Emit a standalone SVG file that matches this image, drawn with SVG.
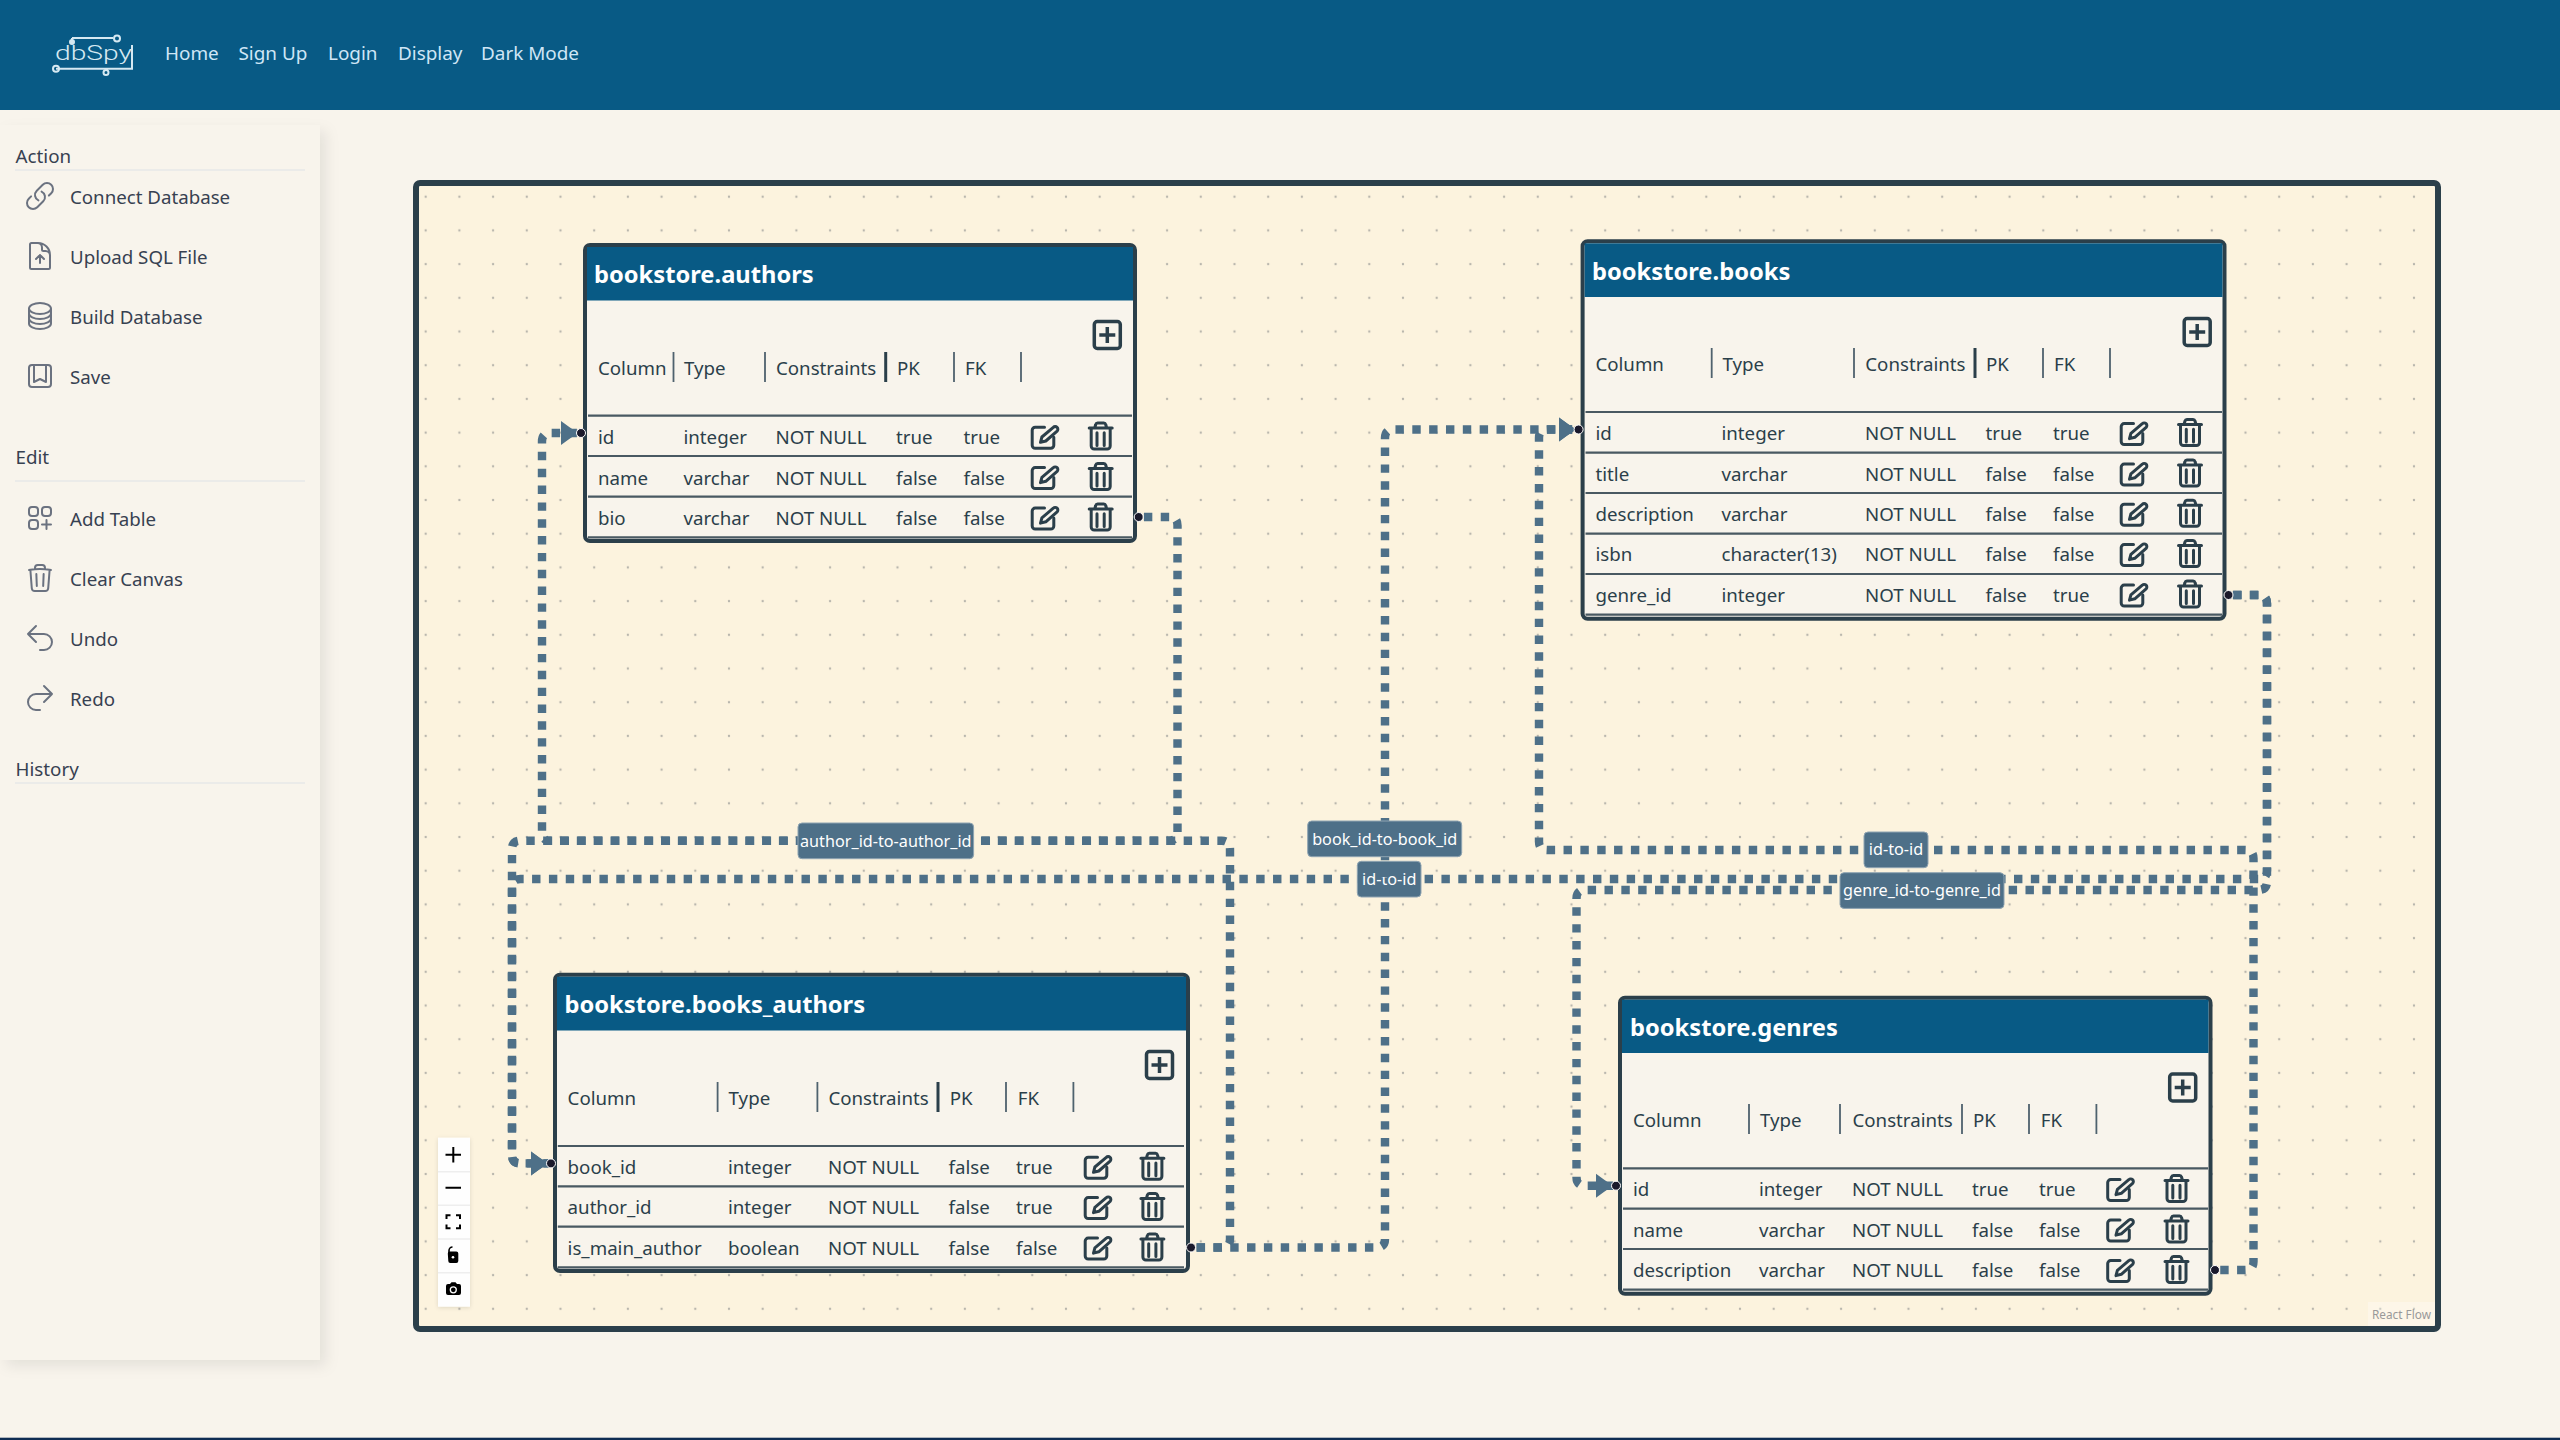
<svg xmlns="http://www.w3.org/2000/svg" width="2560" height="1440" viewBox="0 0 2560 1440">
<style>
text{font-family:"Noto Sans","Open Sans",sans-serif}
.nav{font-size:18.900px;fill:#cfe6f6}
.sec{font-size:18.800px;fill:#374151}
.it{font-size:18.700px;fill:#374151}
.ic{fill:none;stroke:#6b7280;stroke-width:1.5;stroke-linecap:round;stroke-linejoin:round}
.sl{stroke:#e7e8e8;stroke-width:1.6}
.e{fill:none;stroke:#4e7088;stroke-width:8.42;stroke-dasharray:8.42 8.42}
.lb{fill:#4e7088;stroke:#8fa4b2;stroke-width:1}
.lt{font-size:16.200px;fill:#fff;text-anchor:middle}
.box{fill:#f8f4ec;stroke:#2b3f4a;stroke-width:4}
.hd{fill:#085a85}
.ti{font-size:23.700px;font-weight:700;fill:#fff}
.c{font-size:18.700px;fill:#2b3f4a}
.rl{stroke:#2b3f4a;stroke-width:2.200;opacity:.85}
.dv{stroke:#4f626e;stroke-width:1.8}
.dt{stroke:#2b3f4a;stroke-width:3}
.hs{fill:#1a192b;stroke:#fff;stroke-width:1}
.ln{fill:none;stroke:#2b3f4a;stroke-width:3;stroke-linecap:round;stroke-linejoin:round}
.lg{fill:none;stroke:#d6e9f2;stroke-width:2}
</style>
<defs>
<pattern id="dots" patternUnits="userSpaceOnUse" x="408.85" y="179.85" width="33.7" height="33.7"><circle cx="16.85" cy="16.85" r="1.2" fill="#b9b6ad"/></pattern>
<filter id="sh" x="-10%" y="-10%" width="120%" height="120%"><feDropShadow dx="6" dy="6" stdDeviation="7" flood-color="#000" flood-opacity=".08"/></filter>
<filter id="ts" x="-20%" y="-5%" width="140%" height="110%"><feDropShadow dx="0" dy="1" stdDeviation="2" flood-color="#000" flood-opacity=".12"/></filter>
<marker id="arrow" markerUnits="userSpaceOnUse" markerWidth="24" markerHeight="28" viewBox="0 0 24 28" refX="20" refY="14" orient="auto"><path d="M0 2Q8 8 17 14Q8 20 0 26z" fill="#4e7088"/></marker>
<g id="ed"><path class="ln" d="M-1-9.4H-10.300a3 3 0 0 0-3 3V8.600a3 3 0 0 0 3 3H5.300a3 3 0 0 0 3-3V.6"/><path class="ln" d="M-5 5.600L-3.600 .3 7.800-9.300a2.600 2.600 0 0 1 3.800 3.700L.3 4.300z"/></g>
<g id="tr"><path class="ln" d="M-11.500-8H11.500M-6-8l1-3.500a2 2 0 0 1 2-1.500h6a2 2 0 0 1 2 1.500l1 3.500M-9.500-7V10a3 3 0 0 0 3 3H6.500a3 3 0 0 0 3-3V-7M-3.700-3.300V9.500M3.500-3.300V9.500"/></g>
<g id="pl"><rect x="-13" y="-13" width="26" height="27" rx="3" fill="none" stroke="#2b3f4a" stroke-width="3.500"/><path d="M-8 .5H8M0-7.500V8.500" fill="none" stroke="#2b3f4a" stroke-width="3.500"/></g>
</defs>

<rect width="2560" height="1440" fill="#f8f4ec"/>
<g id="topbar">
<rect width="2560" height="110" fill="#085a85"/>
<g id="logo">
<path class="lg" d="M72 38H113M72 38V44M56 68.700H132V45M107 68.700V70"/>
<circle class="lg" cx="117" cy="38.500" r="3"/><circle class="lg" cx="56" cy="68.700" r="3"/><circle class="lg" cx="106" cy="72.500" r="2.500"/><circle class="lg" cx="72" cy="42" r="2"/>
<text x="55" y="60" font-size="20" textLength="77" lengthAdjust="spacingAndGlyphs" style="font-family:Roboto,sans-serif;font-weight:300;fill:#d6e9f2">dbSpy</text>
</g>
<text class="nav" x="165" y="60">Home</text>
<text class="nav" x="238.500" y="60">Sign Up</text>
<text class="nav" x="328" y="60">Login</text>
<text class="nav" x="398" y="60">Display</text>
<text class="nav" x="481" y="60">Dark Mode</text>
</g>
<rect x="0" y="1437.700" width="2560" height="2.300" fill="#0f2d52"/>

<g id="sidebar">
<rect x="0" y="125" width="320" height="1235" fill="#f8f4ec" filter="url(#sh)"/>
<text class="sec" x="15.500" y="163">Action</text><line class="sl" x1="15" y1="170" x2="305" y2="170"/>
<text class="it" x="70" y="204">Connect Database</text>
<g transform="translate(24 180) scale(1.333)"><path class="ic" d="M13.190 8.688a4.500 4.500 0 011.242 7.244l-4.500 4.500a4.500 4.500 0 01-6.364-6.364l1.757-1.757m13.350-.622l1.757-1.757a4.500 4.500 0 00-6.364-6.364l-4.500 4.500a4.500 4.500 0 001.242 7.244"/></g>
<text class="it" x="70" y="264">Upload SQL File</text>
<g transform="translate(24 240) scale(1.333)"><path class="ic" d="M19.500 14.250v-2.625a3.375 3.375 0 00-3.375-3.375h-1.500A1.125 1.125 0 0113.500 7.125v-1.500a3.375 3.375 0 00-3.375-3.375H8.250m6.750 12l-3-3m0 0l-3 3m3-3v6m-1.500-15H5.625c-.621 0-1.125.504-1.125 1.125v17.250c0 .621.504 1.125 1.125 1.125h12.750c.621 0 1.125-.504 1.125-1.125V11.250a9 9 0 00-9-9z"/></g>
<text class="it" x="70" y="324">Build Database</text>
<g transform="translate(24 300) scale(1.333)"><path class="ic" d="M20.250 6.375c0 2.278-3.694 4.125-8.250 4.125S3.750 8.653 3.750 6.375m16.500 0c0-2.278-3.694-4.125-8.250-4.125S3.750 4.097 3.750 6.375m16.500 0v11.250c0 2.278-3.694 4.125-8.250 4.125s-8.250-1.847-8.250-4.125V6.375m16.500 0v3.750m-16.500-3.750v3.750m16.500 0v3.750C20.250 16.153 16.556 18 12 18s-8.250-1.847-8.250-4.125v-3.750m16.500 0c0 2.278-3.694 4.125-8.250 4.125s-8.250-1.847-8.250-4.125"/></g>
<text class="it" x="70" y="384">Save</text>
<g transform="translate(24 360) scale(1.333)"><path class="ic" d="M16.500 3.750V16.500L12 14.250 7.500 16.500V3.750m9 0H18A2.250 2.250 0 0120.250 6v12A2.250 2.250 0 0118 20.250H6A2.250 2.250 0 013.750 18V6A2.250 2.250 0 016 3.750h1.500m9 0h-9"/></g>
<text class="sec" x="15.500" y="464">Edit</text><line class="sl" x1="15" y1="481" x2="305" y2="481"/>
<text class="it" x="70" y="526">Add Table</text>
<g transform="translate(24 502) scale(1.333)"><g class="ic"><rect x="3.750" y="3.750" width="6.750" height="6.750" rx="2.250"/><rect x="13.500" y="3.750" width="6.750" height="6.750" rx="2.250"/><rect x="3.750" y="13.500" width="6.750" height="6.750" rx="2.250"/><path d="M13.500 16.875h6.750M16.875 13.500v6.750"/></g></g>
<text class="it" x="70" y="586">Clear Canvas</text>
<g transform="translate(24 562) scale(1.333)"><path class="ic" d="M14.740 9l-.346 9m-4.788 0L9.260 9m9.968-3.210c.342.052.682.107 1.022.166m-1.022-.165L18.160 19.673a2.250 2.250 0 01-2.244 2.077H8.084a2.250 2.250 0 01-2.244-2.077L4.772 5.790m14.456 0a48.108 48.108 0 00-3.478-.397m-12 .562c.34-.059.68-.114 1.022-.165m0 0a48.110 48.110 0 013.478-.397m7.500 0v-.916c0-1.180-.91-2.164-2.090-2.201a51.964 51.964 0 00-3.320 0c-1.180.037-2.090 1.022-2.090 2.201v.916m7.500 0a48.667 48.667 0 00-7.500 0"/></g>
<text class="it" x="70" y="646">Undo</text>
<g transform="translate(24 622) scale(1.333)"><path class="ic" d="M9 15L3 9m0 0l6-6M3 9h12a6 6 0 010 12h-3"/></g>
<text class="it" x="70" y="706">Redo</text>
<g transform="translate(24 682) scale(1.333)"><path class="ic" d="M15 15l6-6m0 0l-6-6m6 6H9a6 6 0 000 12h3"/></g>
<text class="sec" x="15.500" y="776">History</text><line class="sl" x1="15" y1="783" x2="305" y2="783"/>
</g>

<g id="canvas">
<rect x="416" y="183" width="2022" height="1146" rx="4" fill="#fcf3de" stroke="#2b3f4a" stroke-width="6"/>
<rect x="419" y="186" width="2016" height="1140" fill="url(#dots)"/>
<rect x="2368" y="1302" width="67" height="24" fill="#fff" opacity=".3"/>
<text x="2372" y="1319" font-size="11.800" fill="#999">React Flow</text>
</g>

<g id="connectors">
<path class="e" style="stroke-dashoffset:11.94" marker-end="url(#arrow)" d="M1139 517H1169.080Q1177.500 517 1177.500 525.420V832.280Q1177.500 840.700 1169.080 840.700H520.420Q512 840.700 512 849.120V1154.980Q512 1163.400 520.420 1163.400H551"/>
<path class="e" style="stroke-dashoffset:12.5" marker-end="url(#arrow)" d="M2229 595H2258.580Q2267 595 2267 603.420V870.580Q2267 879 2258.580 879H520.420Q512 879 512 887.420V1154.980Q512 1163.400 520.420 1163.400H551"/>
<g id="label-id-to-id-1"><rect class="lb" x="1357.300" y="861.300" width="63.700" height="35.700" rx="4"/><text class="lt" x="1389.200" y="884.500">id-to-id</text></g>
<path class="e" style="stroke-dashoffset:11.17" marker-end="url(#arrow)" d="M1191 1247.500H1221.580Q1230 1247.500 1230 1239.080V849.120Q1230 840.700 1221.580 840.700H550.420Q542 840.700 542 832.280V441.420Q542 433 550.420 433H581"/>
<g id="label-author"><rect class="lb" x="798" y="823" width="175.600" height="35.700" rx="4"/><text class="lt" x="885.800" y="846.500">author_id-to-author_id</text></g>
<path class="e" style="stroke-dashoffset:11.6" marker-end="url(#arrow)" d="M2215 1270H2245.080Q2253.500 1270 2253.500 1261.580V858.420Q2253.500 850 2245.080 850H1547.420Q1539 850 1539 841.580V437.920Q1539 429.500 1547.420 429.500H1579"/>
<g id="label-id-to-id-2"><rect class="lb" x="1864" y="832" width="64" height="35.700" rx="4"/><text class="lt" x="1896" y="855.300">id-to-id</text></g>
<path class="e" style="stroke-dashoffset:13" marker-end="url(#arrow)" d="M2229 595H2258.580Q2267 595 2267 603.420V881.580Q2267 890 2258.580 890H1584.920Q1576.500 890 1576.500 898.420V1177.280Q1576.500 1185.700 1584.920 1185.700H1616"/>
<g id="label-genre"><rect class="lb" x="1840" y="872.700" width="164" height="35.700" rx="4"/><text class="lt" x="1922" y="896">genre_id-to-genre_id</text></g>
<path class="e" style="stroke-dashoffset:11.3" marker-end="url(#arrow)" d="M1191 1247.500H1376.580Q1385 1247.500 1385 1239.080V437.920Q1385 429.500 1393.420 429.500H1579"/>
<g id="label-book"><rect class="lb" x="1307.700" y="821" width="154" height="35.700" rx="4"/><text class="lt" x="1384.700" y="844.500">book_id-to-book_id</text></g>
</g>

<g id="node-authors">
<rect class="box" x="585" y="245" width="550" height="296" rx="5"/><rect class="hd" x="587" y="247" width="546" height="53.500"/>
<text class="ti" x="594" y="283">bookstore.authors</text>
<text class="c" x="598" y="375">Column</text><text class="c" x="684" y="375">Type</text><text class="c" x="776" y="375">Constraints</text><text class="c" x="897" y="375">PK</text><text class="c" x="965" y="375">FK</text>
<path class="dv" d="M673.500 352V382M765 352V382M954 352V382M1021 352V382"/><path class="dt" d="M885.700 352V382"/>
<use href="#pl" x="1107.300" y="334.500"/>
<path class="rl" d="M588 415.700H1132M588 456H1132M588 496.700H1132M588 537.300H1132"/>
<text class="c" x="598" y="444">id</text><text class="c" x="683.500" y="444">integer</text><text class="c" x="775.500" y="444">NOT NULL</text><text class="c" x="896" y="444">true</text><text class="c" x="963.500" y="444">true</text>
<use href="#ed" x="1045.500" y="436.700"/><use href="#tr" x="1100.700" y="436"/>
<text class="c" x="598" y="484.500">name</text><text class="c" x="683.500" y="484.500">varchar</text><text class="c" x="775.500" y="484.500">NOT NULL</text><text class="c" x="896" y="484.500">false</text><text class="c" x="963.500" y="484.500">false</text>
<use href="#ed" x="1045.500" y="477"/><use href="#tr" x="1100.700" y="476.500"/>
<text class="c" x="598" y="525">bio</text><text class="c" x="683.500" y="525">varchar</text><text class="c" x="775.500" y="525">NOT NULL</text><text class="c" x="896" y="525">false</text><text class="c" x="963.500" y="525">false</text>
<use href="#ed" x="1045.500" y="517.500"/><use href="#tr" x="1100.700" y="517"/>
<circle class="hs" cx="581" cy="433" r="4.500"/><circle class="hs" cx="1138.700" cy="517" r="4.500"/>
</g>

<g id="node-books">
<rect class="box" x="1582.600" y="241.300" width="641.900" height="377.400" rx="5"/><rect class="hd" x="1584.600" y="243.300" width="637.900" height="53.700"/>
<text class="ti" x="1592" y="280">bookstore.books</text>
<text class="c" x="1595.400" y="371">Column</text><text class="c" x="1722.400" y="371">Type</text><text class="c" x="1865.300" y="371">Constraints</text><text class="c" x="1986" y="371">PK</text><text class="c" x="2054" y="371">FK</text>
<path class="dv" d="M1711.700 348V378M1854 348V378M2043 348V378M2110 348V378"/><path class="dt" d="M1975 348V378"/>
<use href="#pl" x="2197.200" y="331.500"/>
<path class="rl" d="M1585.500 412H2222M1585.500 452.700H2222M1585.500 493H2222M1585.500 533.700H2222M1585.500 574H2222M1585.500 614.700H2222"/>
<text class="c" x="1595.500" y="440">id</text><text class="c" x="1721.500" y="440">integer</text><text class="c" x="1865" y="440">NOT NULL</text><text class="c" x="1985.500" y="440">true</text><text class="c" x="2053" y="440">true</text>
<use href="#ed" x="2134.500" y="433"/><use href="#tr" x="2190" y="432.500"/>
<text class="c" x="1595.500" y="481">title</text><text class="c" x="1721.500" y="481">varchar</text><text class="c" x="1865" y="481">NOT NULL</text><text class="c" x="1985.500" y="481">false</text><text class="c" x="2053" y="481">false</text>
<use href="#ed" x="2134.500" y="473.500"/><use href="#tr" x="2190" y="473"/>
<text class="c" x="1595.500" y="521">description</text><text class="c" x="1721.500" y="521">varchar</text><text class="c" x="1865" y="521">NOT NULL</text><text class="c" x="1985.500" y="521">false</text><text class="c" x="2053" y="521">false</text>
<use href="#ed" x="2134.500" y="513.700"/><use href="#tr" x="2190" y="513.200"/>
<text class="c" x="1595.500" y="561">isbn</text><text class="c" x="1721.500" y="561">character(13)</text><text class="c" x="1865" y="561">NOT NULL</text><text class="c" x="1985.500" y="561">false</text><text class="c" x="2053" y="561">false</text>
<use href="#ed" x="2134.500" y="554"/><use href="#tr" x="2190" y="553.500"/>
<text class="c" x="1595.500" y="601.700">genre_id</text><text class="c" x="1721.500" y="601.700">integer</text><text class="c" x="1865" y="601.700">NOT NULL</text><text class="c" x="1985.500" y="601.700">false</text><text class="c" x="2053" y="601.700">true</text>
<use href="#ed" x="2134.500" y="594.500"/><use href="#tr" x="2190" y="594"/>
<circle class="hs" cx="1578.600" cy="429.500" r="4.500"/><circle class="hs" cx="2228.500" cy="595" r="4.500"/>
</g>

<g id="node-books-authors">
<rect class="box" x="555" y="974.700" width="633" height="296.300" rx="5"/><rect class="hd" x="557" y="976.700" width="629" height="53.800"/>
<text class="ti" x="564.500" y="1013">bookstore.books_authors</text>
<text class="c" x="567.600" y="1105">Column</text><text class="c" x="728.600" y="1105">Type</text><text class="c" x="828.400" y="1105">Constraints</text><text class="c" x="949.700" y="1105">PK</text><text class="c" x="1017.700" y="1105">FK</text>
<path class="dv" d="M717.600 1082V1112M817.400 1082V1112M1006 1082V1112M1073.400 1082V1112"/><path class="dt" d="M938 1082V1112"/>
<use href="#pl" x="1159.500" y="1064.500"/>
<path class="rl" d="M557.800 1146H1184M557.800 1186.300H1184M557.800 1226.700H1184M557.800 1267.300H1184"/>
<text class="c" x="567.600" y="1174">book_id</text><text class="c" x="728" y="1174">integer</text><text class="c" x="828" y="1174">NOT NULL</text><text class="c" x="948.500" y="1174">false</text><text class="c" x="1016" y="1174">true</text>
<use href="#ed" x="1098.500" y="1166.700"/><use href="#tr" x="1152.400" y="1166.200"/>
<text class="c" x="567.600" y="1214">author_id</text><text class="c" x="728" y="1214">integer</text><text class="c" x="828" y="1214">NOT NULL</text><text class="c" x="948.500" y="1214">false</text><text class="c" x="1016" y="1214">true</text>
<use href="#ed" x="1098.500" y="1207"/><use href="#tr" x="1152.400" y="1206.500"/>
<text class="c" x="567.600" y="1255">is_main_author</text><text class="c" x="728" y="1255">boolean</text><text class="c" x="828" y="1255">NOT NULL</text><text class="c" x="948.500" y="1255">false</text><text class="c" x="1016" y="1255">false</text>
<use href="#ed" x="1098.500" y="1247.500"/><use href="#tr" x="1152.400" y="1247"/>
<circle class="hs" cx="551" cy="1163.400" r="4.500"/><circle class="hs" cx="1191" cy="1247.500" r="4.500"/>
</g>

<g id="node-genres">
<rect class="box" x="1620" y="997.700" width="590.500" height="296" rx="5"/><rect class="hd" x="1622" y="999.700" width="586.500" height="53.300"/>
<text class="ti" x="1630" y="1036">bookstore.genres</text>
<text class="c" x="1633" y="1127">Column</text><text class="c" x="1760" y="1127">Type</text><text class="c" x="1852.500" y="1127">Constraints</text><text class="c" x="1973" y="1127">PK</text><text class="c" x="2040.800" y="1127">FK</text>
<path class="dv" d="M1749 1104V1134M1840 1104V1134M1962 1104V1134M2029 1104V1134M2096.400 1104V1134"/>
<use href="#pl" x="2182.700" y="1087"/>
<path class="rl" d="M1623 1168.300H2208M1623 1208.700H2208M1623 1249H2208M1623 1289.700H2208"/>
<text class="c" x="1633" y="1196">id</text><text class="c" x="1759" y="1196">integer</text><text class="c" x="1852" y="1196">NOT NULL</text><text class="c" x="1972" y="1196">true</text><text class="c" x="2039" y="1196">true</text>
<use href="#ed" x="2121" y="1189"/><use href="#tr" x="2176.500" y="1188.500"/>
<text class="c" x="1633" y="1236.500">name</text><text class="c" x="1759" y="1236.500">varchar</text><text class="c" x="1852" y="1236.500">NOT NULL</text><text class="c" x="1972" y="1236.500">false</text><text class="c" x="2039" y="1236.500">false</text>
<use href="#ed" x="2121" y="1229.500"/><use href="#tr" x="2176.500" y="1229"/>
<text class="c" x="1633" y="1277">description</text><text class="c" x="1759" y="1277">varchar</text><text class="c" x="1852" y="1277">NOT NULL</text><text class="c" x="1972" y="1277">false</text><text class="c" x="2039" y="1277">false</text>
<use href="#ed" x="2121" y="1270"/><use href="#tr" x="2176.500" y="1269.500"/>
<circle class="hs" cx="1616" cy="1185.700" r="4.500"/><circle class="hs" cx="2215" cy="1270" r="4.500"/>
</g>

<g id="toolbar">
<rect x="438" y="1137.700" width="32" height="169" fill="#fefefe" filter="url(#ts)"/>
<path d="M438 1171.700H470M438 1205.300H470M438 1239H470M438 1272.700H470" stroke="#eee" stroke-width="1.500"/>
<path d="M445.500 1154.700H461M453.300 1147V1162.500M445.500 1187.700H461" stroke="#000" stroke-width="2"/>
<path d="M446.500 1219V1215.200H450.500M456 1215.200H460V1219M460 1224.500V1228.200H456M450.500 1228.200H446.500V1224.500" fill="none" stroke="#000" stroke-width="2"/>
<path d="M449 1253v-2.500a3.500 3.500 0 0 1 3.500-3.500" fill="none" stroke="#000" stroke-width="1.600"/>
<path d="M447.800 1253.500a2 2 0 0 1 2-2h6.500a2 2 0 0 1 2 2v7.500a2 2 0 0 1-2 2h-6a2 2 0 0 1-2-2z" fill="#000"/><circle cx="453" cy="1257.200" r="1.300" fill="#fff"/>
<path d="M446 1286a2 2 0 0 1 2-2h2l1.500-1.800h4L457 1284h2a2 2 0 0 1 2 2v7a2 2 0 0 1-2 2H448a2 2 0 0 1-2-2z" fill="#000"/><circle cx="453.300" cy="1289.800" r="3" fill="none" stroke="#fff" stroke-width="1.300"/>
</g>
</svg>
